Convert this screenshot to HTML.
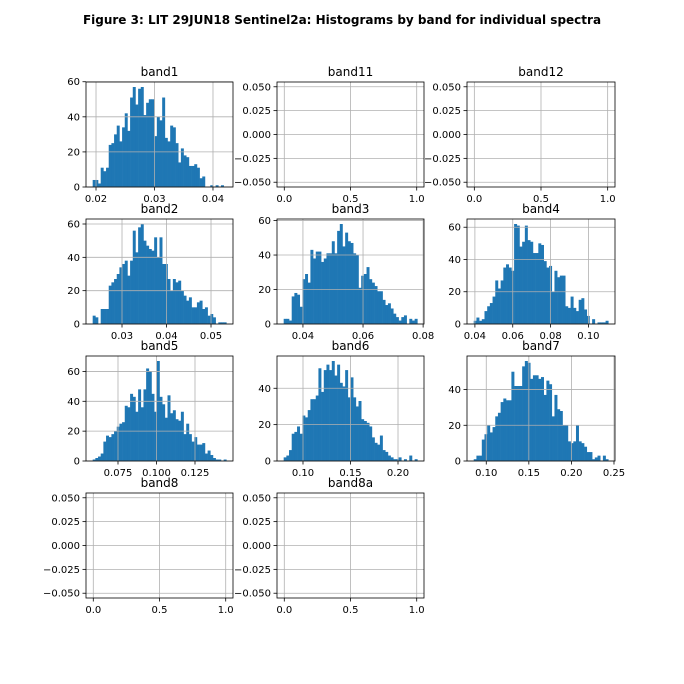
<!DOCTYPE html>
<html><head><meta charset="utf-8"><style>
body{margin:0;background:#fff;}
svg{display:block;font-family:"DejaVu Sans","Liberation Sans",sans-serif;}
</style></head><body>
<svg id="fig" width="684" height="684" viewBox="0 0 684 684">
<rect width="684" height="684" fill="#fff"/>
<text x="342" y="24" text-anchor="middle" font-size="12" font-weight="bold">Figure 3: LIT 29JUN18  Sentinel2a: Histograms by band for individual spectra</text>
</svg>
<script>
const band1Counts=[4,4,2,11,9,11,24,25,30,35,26,34,42,32,51,57,47,56,57,41,48,50,50,29,40,38,51,28,26,35,34,25,14,22,18,17,12,12,13,11,5,6,0,0,1,0,1,0,1,0];
const band2Counts=[5,4,0,9,9,9,23,25,27,30,34,36,38,29,38,56,43,58,60,50,47,45,44,52,40,52,36,36,27,20,27,25,26,20,17,14,16,10,10,13,14,9,10,5,6,4,0,1,1,1];
const band3Counts=[3,3,2,16,18,17,10,26,29,24,43,38,42,42,36,38,41,41,48,41,54,58,45,53,48,47,41,40,21,28,29,33,26,24,22,19,19,14,11,12,9,6,4,2,4,5,0,3,2,3];
const band4Counts=[2,4,2,3,8,11,13,17,27,22,27,35,37,35,33,62,61,48,51,61,52,51,44,44,50,49,39,35,36,20,33,29,30,30,11,10,17,10,8,15,16,9,5,0,3,0,1,1,1,2];
const band5Counts=[1,2,3,5,13,17,16,18,20,23,25,26,37,36,45,43,33,48,36,48,62,60,45,33,67,43,38,29,44,32,34,28,27,33,18,25,18,13,16,11,11,12,5,7,4,2,1,1,0,1];
const band6Counts=[2,3,6,15,16,19,15,25,24,28,34,34,36,51,38,50,53,50,55,47,53,43,41,50,35,46,35,30,33,23,22,21,19,13,10,9,14,6,5,3,2,1,1,2,0,1,0,3,0,1];
const band7Counts=[1,3,3,12,15,20,16,19,25,27,33,35,34,34,50,42,42,42,53,56,55,46,48,48,46,47,37,45,43,25,37,29,28,20,20,11,10,11,20,11,10,8,5,5,1,2,3,0,3,1];
const bandNames=["band1","band11","band12","band2","band3","band4","band5","band6","band7","band8","band8a"];
const band1Range=[0.01943,0.04228], band2Range=[0.02341,0.05344], band3Range=[0.03359,0.07807];
const band4Range=[0.03938,0.11049], band5Range=[0.05856,0.14534], band6Range=[0.07967,0.22033], band7Range=[0.08528,0.24329];
const histXTicks=[[0.02,0.03,0.04],[0.03,0.04,0.05],[0.04,0.06,0.08],[0.04,0.06,0.08,0.10],[0.075,0.100,0.125],[0.10,0.15,0.20],[0.10,0.15,0.20,0.25]];
const histXLabels=[["0.02","0.03","0.04"],["0.03","0.04","0.05"],["0.04","0.06","0.08"],["0.04","0.06","0.08","0.10"],["0.075","0.100","0.125"],["0.10","0.15","0.20"],["0.10","0.15","0.20","0.25"]];
const histYTicks=[[0,20,40,60],[0,20,40,60],[0,20,40,60],[0,20,40,60],[0,20,40,60],[0,20,40],[0,20,40]];
const emptyXTicks=[0,0.5,1.0], emptyXLabels=["0.0","0.5","1.0"];
const emptyYTicks=[-0.05,-0.025,0,0.025,0.05], emptyYLabels=["−0.050","−0.025","0.000","0.025","0.050"];

const NS="http://www.w3.org/2000/svg";
const svg=document.getElementById('fig');
function mk(tag,attrs,parent){const e=document.createElementNS(NS,tag);for(const k in attrs)e.setAttribute(k,attrs[k]);(parent||svg).appendChild(e);return e;}
const colX=[[86,233],[277,424],[467,615]];
const rowY=[[82,187],[219,324],[356,461],[493,598]];

function axesFrame(name,col,row,xlim,ylim,xt,xl,yt,yl,counts,range){
  const [x0,x1]=colX[col],[y0,y1]=rowY[row];
  const g=mk('g',{});
  
  
  const sx=v=>x0+(v-xlim[0])/(xlim[1]-xlim[0])*(x1-x0);
  const sy=v=>y1-(v-ylim[0])/(ylim[1]-ylim[0])*(y1-y0);
  if(counts){
    const w=(range[1]-range[0])/counts.length;
    counts.forEach((c,i)=>{
      if(c<=0)return;
      const bx=sx(range[0]+i*w),bx2=sx(range[0]+(i+1)*w);
      const r=mk('rect',{x:bx,y:sy(c),width:bx2-bx+0.3,height:sy(0)-sy(c),fill:'#1f77b4'},g);
      
      
    });
  }
  xt.forEach((v,i)=>{const x=sx(v);
    mk('line',{x1:x,x2:x,y1:y0,y2:y1,stroke:'#b0b0b0','stroke-width':0.8},g);
    mk('line',{x1:x,x2:x,y1:y1,y2:y1+3.5,stroke:'#000','stroke-width':0.8},g);
    const t=mk('text',{x:x,y:y1+15,'text-anchor':'middle','font-size':10},g);t.textContent=xl[i];
    
    });
  yt.forEach((v,i)=>{const y=sy(v);
    mk('line',{x1:x0,x2:x1,y1:y,y2:y,stroke:'#b0b0b0','stroke-width':0.8},g);
    mk('line',{x1:x0-3.5,x2:x0,y1:y,y2:y,stroke:'#000','stroke-width':0.8},g);
    const t=mk('text',{x:x0-6,y:y+3.5,'text-anchor':'end','font-size':10},g);t.textContent=yl[i];
    
    });
  mk('rect',{x:x0,y:y0,width:x1-x0,height:y1-y0,fill:'none',stroke:'#000','stroke-width':0.8},g);
  const tt=mk('text',{x:(x0+x1)/2,y:y0-6,'text-anchor':'middle','font-size':12},g);tt.textContent=name;
  
  
}
function hist(name,col,row,counts,range,k){
  const span=range[1]-range[0];
  const mx=Math.max(...counts)*1.05;
  axesFrame(name,col,row,[range[0]-0.05*span,range[1]+0.05*span],[0,mx],histXTicks[k],histXLabels[k],histYTicks[k],histYTicks[k].map(String),counts,range);
}
function empty(name,col,row){axesFrame(name,col,row,[-0.055,1.055],[-0.055,0.055],emptyXTicks,emptyXLabels,emptyYTicks,emptyYLabels,null,null);}

hist(bandNames[0],0,0,band1Counts,band1Range,0);
empty(bandNames[1],1,0);
empty(bandNames[2],2,0);
hist(bandNames[3],0,1,band2Counts,band2Range,1);
hist(bandNames[4],1,1,band3Counts,band3Range,2);
hist(bandNames[5],2,1,band4Counts,band4Range,3);
hist(bandNames[6],0,2,band5Counts,band5Range,4);
hist(bandNames[7],1,2,band6Counts,band6Range,5);
hist(bandNames[8],2,2,band7Counts,band7Range,6);
empty(bandNames[9],0,3);
empty(bandNames[10],1,3);
</script>
</body></html>
